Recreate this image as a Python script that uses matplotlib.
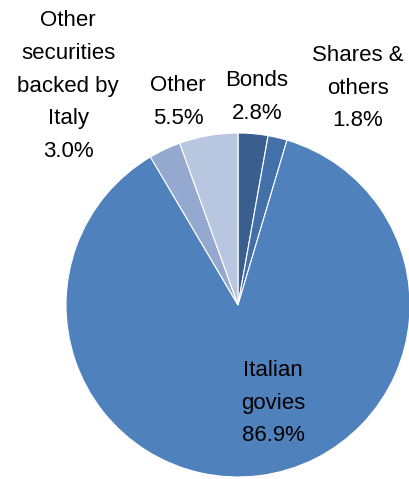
import matplotlib
matplotlib.use("Agg")
import matplotlib.pyplot as plt

categories = ["Bonds", "Shares &\nothers", "Italian\ngovies",
              "Other\nsecurities\nbacked by\nItaly", "Other"]
values = [2.8, 1.8, 86.9, 3.0, 5.5]
colors = ["#3a5f8f", "#4370a8", "#4f81bd", "#95a9d0", "#b9c6e0"]

# label anchor points (figure pixels, from top-left) for each category
label_pos = [(257, 97), (358, 88), (273, 403), (68, 86), (178, 102)]

W, H = 409, 479
fig = plt.figure(figsize=(W / 100, H / 100), dpi=100)
ax = fig.add_axes([0, 0, 1, 1])

ax.pie(values, colors=colors, startangle=90, counterclock=False,
       center=(238, H - 305), radius=172,
       wedgeprops=dict(edgecolor="white", linewidth=0.8))

ax.set_xlim(0, W)
ax.set_ylim(0, H)
ax.set_aspect("equal")
ax.axis("off")

for cat, val, (x, y) in zip(categories, values, label_pos):
    ax.text(x, H - y, f"{cat}\n{val:.1f}%", ha="center", va="center",
            fontsize=16, family="Liberation Sans", linespacing=1.74,
            color="black")

fig.savefig("out.png", dpi=100)
